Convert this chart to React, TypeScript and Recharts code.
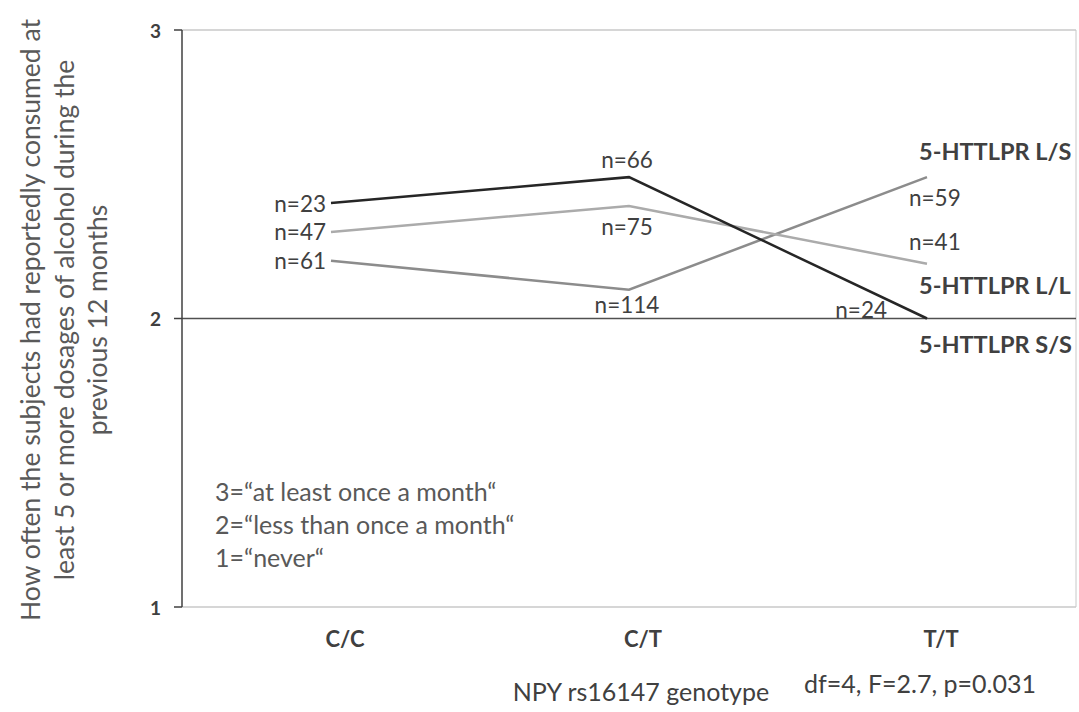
import React from 'react';
import { LineChart, Line, XAxis, YAxis, ReferenceLine, CartesianGrid, LabelList, Customized } from 'recharts';

const categories = ['C/C', 'C/T', 'T/T'];
const seriesSS = [2.4, 2.49, 2.0];
const seriesLL = [2.3, 2.39, 2.19];
const seriesLS = [2.2, 2.1, 2.49];
const nSS = [23, 66, 24];
const nLL = [47, 75, 41];
const nLS = [61, 114, 59];
const yTicks = [1, 2, 3];
const seriesNames = { ss: '5-HTTLPR S/S', ll: '5-HTTLPR L/L', ls: '5-HTTLPR L/S' };
const yTitleLines = [
  'How often the subjects had reportedly consumed at',
  'least 5 or more dosages of alcohol during the',
  'previous 12 months',
];
const legendLines = ['3=\u201Cat least once a month\u201C', '2=\u201Cless than once a month\u201C', '1=\u201Cnever\u201C'];
const xTitle = 'NPY rs16147 genotype';
const statText = 'df=4, F=2.7, p=0.031';

const data = categories.map((c, i) => ({
  cat: c,
  ss: seriesSS[i],
  ll: seriesLL[i],
  ls: seriesLS[i],
  nss: nSS[i],
  nll: nLL[i],
  nls: nLS[i],
}));

const FONT = 'Lato, "Open Sans", sans-serif';
const TXT = '#404040';

type Place = { dx: number; dy: number; anchor: 'start' | 'middle' | 'end' };
const placements: Record<string, Place[]> = {
  ss: [{ dx: -5, dy: 0, anchor: 'end' }, { dx: -2, dy: -18, anchor: 'middle' }, { dx: -40, dy: -9, anchor: 'end' }],
  ll: [{ dx: -5, dy: 0, anchor: 'end' }, { dx: -2, dy: 21, anchor: 'middle' }, { dx: -18, dy: -22, anchor: 'start' }],
  ls: [{ dx: -5, dy: 0, anchor: 'end' }, { dx: -2, dy: 15, anchor: 'middle' }, { dx: -18, dy: 20, anchor: 'start' }],
};
const namePlacement: Record<string, { dx: number; dy: number }> = {
  ss: { dx: -8, dy: 25 },
  ll: { dx: -8, dy: 21 },
  ls: { dx: -8, dy: -26 },
};

const makeLabel = (key: string) => (props: any) => {
  const { x, y, index, value } = props;
  const p = placements[key][index];
  const isLast = index === categories.length - 1;
  return (
    <g>
      <text x={x + p.dx} y={y + p.dy} textAnchor={p.anchor} dominantBaseline="central" fontFamily={FONT} fontSize={22.5} fill={TXT}>
        {`n=${value}`}
      </text>
      {isLast && (
        <text x={x + namePlacement[key].dx} y={y + namePlacement[key].dy} textAnchor="start" dominantBaseline="central" fontFamily={FONT} fontSize={23.5} fontWeight={700} fill={TXT}>
          {seriesNames[key as keyof typeof seriesNames]}
        </text>
      )}
    </g>
  );
};

const XTick = (props: any) => {
  const { x, y, payload } = props;
  return (
    <text x={x + 14} y={y + 23} textAnchor="middle" dominantBaseline="central" fontFamily={FONT} fontSize={22} fontWeight={700} fill={TXT}>
      {payload.value}
    </text>
  );
};

const YTick = (props: any) => {
  const { x, y, payload } = props;
  return (
    <text x={x - 11} y={y} textAnchor="end" dominantBaseline="central" fontFamily={FONT} fontSize={19} fontWeight={700} fill={TXT}>
      {payload.value}
    </text>
  );
};

const Annotations = () => (
  <g fontFamily={FONT}>
    {yTitleLines.map((t, i) => (
      <text key={t} transform={`translate(${30 + i * 33.5}, 320) rotate(-90)`} textAnchor="middle" dominantBaseline="central" fontSize={26.5} fill="#595959">
        {t}
      </text>
    ))}
    {legendLines.map((t, i) => (
      <text key={t} x={215} y={491 + i * 33} dominantBaseline="central" fontSize={25} fill="#595959">
        {t}
      </text>
    ))}
    <text x={641} y={691} textAnchor="middle" dominantBaseline="central" fontSize={25} fill={TXT}>{xTitle}</text>
    <text x={920} y={683} textAnchor="middle" dominantBaseline="central" fontSize={25} fill={TXT}>{statText}</text>
  </g>
);

export default function App() {
  return (
    <div style={{ position: 'absolute', left: 0, top: 0, background: '#fff' }}>
      <LineChart width={1079} height={712} data={data} margin={{ top: 30, right: 3, bottom: 0, left: 0 }}>
        <CartesianGrid
          horizontal={false}
          vertical
          stroke="#c8c8c8"
          verticalCoordinatesGenerator={({ offset }: any) => [offset.left + offset.width]}
        />
        <XAxis dataKey="cat" height={105} axisLine={false} tickLine={false} tick={<XTick />} padding={{ left: 149, right: 149 }} />
        <YAxis
          width={182}
          domain={[1, 3]}
          ticks={yTicks}
          interval={0}
          axisLine={{ stroke: '#404040', strokeWidth: 1.5 }}
          tickLine={{ stroke: '#404040', strokeWidth: 1.5 }}
          tickSize={8}
          tick={<YTick />}
        />
        <ReferenceLine y={3} stroke="#c8c8c8" strokeWidth={1.5} />
        <ReferenceLine y={1} stroke="#c8c8c8" strokeWidth={1.5} />
        <ReferenceLine y={2} stroke="#505050" strokeWidth={1.5} />
        <Line dataKey="ls" stroke="#8c8c8c" strokeWidth={2.5} dot={false} isAnimationActive={false}>
          <LabelList dataKey="nls" content={makeLabel('ls')} />
        </Line>
        <Line dataKey="ll" stroke="#ababab" strokeWidth={2.5} dot={false} isAnimationActive={false}>
          <LabelList dataKey="nll" content={makeLabel('ll')} />
        </Line>
        <Line dataKey="ss" stroke="#262626" strokeWidth={2.5} dot={false} isAnimationActive={false}>
          <LabelList dataKey="nss" content={makeLabel('ss')} />
        </Line>
        <Customized component={Annotations} />
      </LineChart>
    </div>
  );
}
